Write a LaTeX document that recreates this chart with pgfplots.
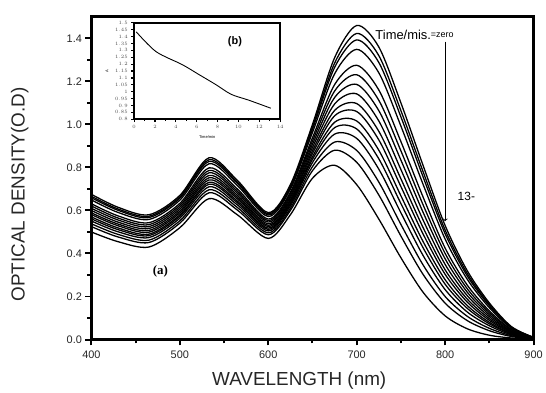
\documentclass[border=0pt]{standalone}
\usepackage{fontspec}
\setmainfont{Liberation Sans}
\newfontfamily\serifb{Liberation Serif}
\usepackage{pgfplots}
\usepackage{pgfplotstable}
\pgfplotsset{compat=1.18}
\pgfplotstableread{
lam c1 c2 c3 c4 c5 c6 c7 c8 c9 c10 c11 c12 c13 c14 c15 c16
400 0.675 0.666 0.659 0.649 0.631 0.621 0.610 0.600 0.589 0.581 0.570 0.561 0.551 0.538 0.525 0.500
430 0.615 0.607 0.601 0.591 0.575 0.565 0.556 0.546 0.537 0.529 0.519 0.511 0.501 0.489 0.477 0.455
465 0.580 0.573 0.567 0.558 0.543 0.534 0.525 0.516 0.507 0.499 0.490 0.483 0.474 0.462 0.451 0.430
500 0.670 0.663 0.657 0.648 0.633 0.624 0.615 0.606 0.597 0.589 0.580 0.573 0.564 0.552 0.541 0.520
533 0.845 0.836 0.828 0.817 0.798 0.786 0.775 0.763 0.752 0.742 0.731 0.722 0.710 0.696 0.682 0.655
565 0.740 0.732 0.726 0.716 0.700 0.690 0.681 0.671 0.662 0.654 0.644 0.636 0.626 0.614 0.602 0.580
600 0.590 0.584 0.579 0.572 0.560 0.553 0.546 0.538 0.531 0.525 0.518 0.512 0.505 0.496 0.487 0.470
625 0.720 0.713 0.707 0.699 0.685 0.677 0.668 0.660 0.651 0.644 0.636 0.629 0.621 0.610 0.600 0.580
650 1.000 0.988 0.978 0.963 0.938 0.923 0.908 0.893 0.878 0.865 0.850 0.838 0.823 0.804 0.785 0.750
675 1.310 1.285 1.265 1.235 1.185 1.155 1.125 1.095 1.065 1.040 1.010 0.985 0.955 0.918 0.880 0.810
700 1.460 1.423 1.393 1.349 1.275 1.231 1.186 1.142 1.097 1.060 1.016 0.979 0.935 0.879 0.824 0.720
725 1.360 1.320 1.288 1.240 1.160 1.112 1.064 1.016 0.968 0.928 0.880 0.840 0.792 0.732 0.672 0.560
750 1.100 1.064 1.035 0.992 0.920 0.877 0.834 0.790 0.747 0.711 0.668 0.632 0.589 0.535 0.481 0.380
775 0.810 0.781 0.757 0.722 0.663 0.627 0.592 0.556 0.521 0.491 0.456 0.427 0.391 0.347 0.303 0.220
800 0.530 0.509 0.492 0.467 0.425 0.400 0.375 0.349 0.324 0.303 0.278 0.257 0.232 0.200 0.169 0.110
825 0.320 0.307 0.296 0.280 0.253 0.236 0.220 0.204 0.188 0.174 0.158 0.145 0.128 0.108 0.088 0.050
850 0.170 0.163 0.157 0.148 0.133 0.124 0.115 0.106 0.097 0.089 0.080 0.073 0.064 0.052 0.041 0.020
875 0.060 0.057 0.055 0.052 0.047 0.044 0.040 0.037 0.034 0.031 0.028 0.026 0.022 0.018 0.014 0.007
900 0.010 0.010 0.009 0.009 0.008 0.007 0.006 0.006 0.005 0.005 0.004 0.004 0.003 0.002 0.001 0.000
}\spectra
\pgfplotstableread{
t A
0.2 1.435
2.1 1.291
4.6 1.197
6.2 1.125
7.8 1.053
9.3 0.981
11.0 0.938
13.1 0.880
}\kinetics
\begin{document}
\begin{tikzpicture}
\begin{axis}[
  name=main,
  at={(0pt,0pt)}, anchor=south west,
  scale only axis, width=445pt, height=324.7pt,
  xmin=400, xmax=900, ymin=0, ymax=1.5,
  axis line style={line width=3pt},
  xtick={400,500,600,700,800,900},
  minor xtick={450,550,650,750,850},
  ytick={0,0.2,0.4,0.6,0.8,1.0,1.2,1.4},
  minor ytick={0.1,0.3,0.5,0.7,0.9,1.1,1.3},
  yticklabel style={/pgf/number format/.cd, fixed, fixed zerofill, precision=1},
  /pgf/number format/assume math mode=true,
  tick align=outside, tick pos=left,
  major tick length=6pt, minor tick length=4pt,
  every tick/.style={line width=2pt, black},
  tick label style={font=\fontsize{11}{11}\selectfont, text=black!85},
  xticklabel style={yshift=-2pt},
  xlabel={WAVELENGTH (nm)}, ylabel={OPTICAL DENSITY(O.D)},
  label style={font=\fontsize{19}{19}\selectfont, text=black!85},
  xlabel style={at={(axis description cs:0.47,-0.127)}, anchor=center},
  ylabel style={at={(axis description cs:-0.162,0.45)}, anchor=center},
]
\pgfplotsinvokeforeach{1,...,16}{
  \addplot[black, line width=1.3pt, smooth] table[x=lam, y=c#1] {\spectra};
}
\node[font=\serifb\bfseries\fontsize{13}{13}\selectfont] at (axis cs:478,0.317) {(a)};
\node[font=\fontsize{13}{13}\selectfont, anchor=base west, inner sep=0pt] at (axis cs:721,1.395) {Time/mis.{\fontsize{9}{9}\selectfont\raisebox{2pt}{=zero}}};
\draw[->, line width=0.9pt] (axis cs:800,1.385) -- (axis cs:800,0.55);
\node[font=\fontsize{12}{12}\selectfont] at (axis cs:824,0.664) {13-};
\end{axis}
\begin{axis}[
  at={(43pt,221.7pt)}, anchor=south west,
  scale only axis, width=147pt, height=97pt,
  xmin=0, xmax=14, ymin=0.8, ymax=1.5,
  axis line style={line width=2pt},
  xtick={0,2,4,6,8,10,12,14}, minor xtick={1,3,5,7,9,11,13},
  ytick={0.8,0.85,0.9,0.95,1.0,1.05,1.1,1.15,1.2,1.25,1.3,1.35,1.4,1.45,1.5},
  tick align=outside, tick pos=left,
  major tick length=3pt, minor tick length=2pt,
  every tick/.style={line width=1.2pt, black},
  axis background/.style={fill=white},
  tick label style={font=\fontsize{3}{3}\selectfont, text=black!70},
  yticklabel style={/pgf/number format/.cd, fixed, precision=2},
  xlabel={Time/min}, ylabel={A},
  label style={font=\fontsize{4}{4}\selectfont},
]
\addplot[black, line width=0.9pt, smooth] table[x=t, y=A] {\kinetics};
\node[font=\bfseries\fontsize{11}{11}\selectfont] at (axis description cs:0.69,0.8) {(b)};
\end{axis}
\path[use as bounding box] (-92pt,-53.3pt) rectangle (454pt,341.7pt);
\end{tikzpicture}
\end{document}
